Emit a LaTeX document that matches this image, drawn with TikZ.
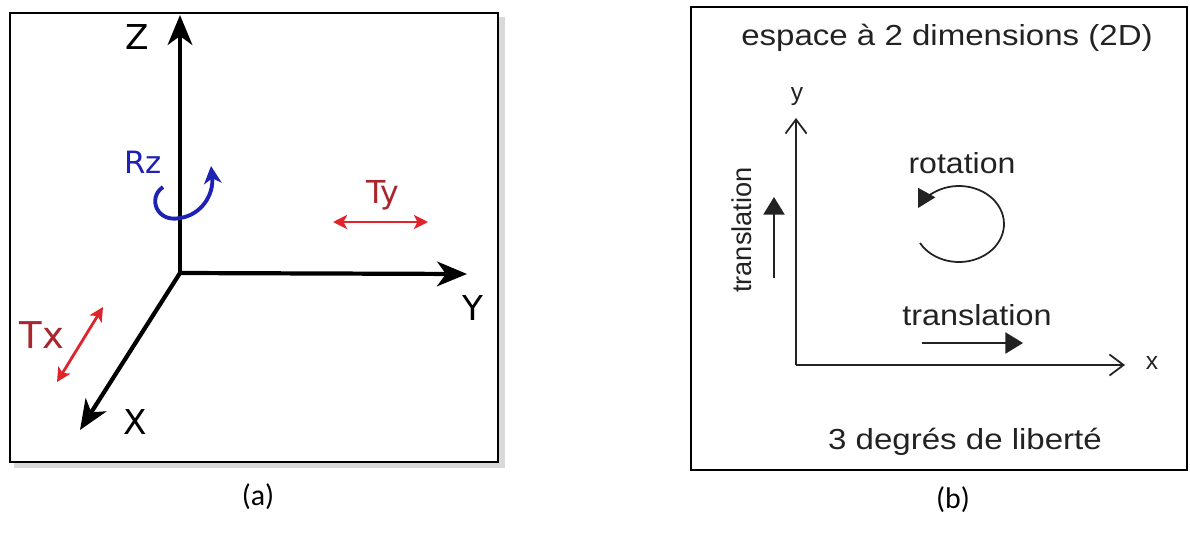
\documentclass[tikz,border=0pt]{standalone}
\usepackage{fontspec}
\setmainfont{Liberation Sans}
\newfontfamily\dejavu{DejaVu Sans}
\newfontfamily\arialf{Liberation Sans}
\newfontfamily\calibrif{Carlito}
\usetikzlibrary{arrows.meta}
\definecolor{tred}{HTML}{A8262E}
\definecolor{ared}{HTML}{E0242B}
\definecolor{rblue}{HTML}{1E22B4}
\definecolor{txtgray}{HTML}{222222}
\tikzset{
  axis3d/.style={line width=2.4pt, -{Stealth[length=17pt,width=14pt,inset=5pt]}},
  axlabel/.style={font=\dejavu\fontsize{19.5}{21}\selectfont},
  redarrow/.style={ared, line width=1.6pt, {Stealth[length=8pt,width=8pt,inset=2pt]}-{Stealth[length=8pt,width=8pt,inset=2pt]}},
  axis2d/.style={line width=1pt, txtgray, -{Straight Barb[length=8pt,width=12pt,line width=1pt]}},
  trarrow/.style={line width=1pt, txtgray, -{Triangle[length=10pt,width=12pt]}},
  btext/.style={txtgray, font=\arialf\fontsize{16.5}{18}\selectfont, xscale=1.14},
  captxt/.style={font=\calibrif\fontsize{17}{19}\selectfont},
}
\begin{document}
\begin{tikzpicture}[x=0.02cm,y=0.02cm]
\useasboundingbox (0,0) rectangle (1190,-555);
% ---------- panel (a)
\fill[gray!30] (14,-17) rectangle (505,-468);
\draw[line width=1.2pt, fill=white] (10,-13) rectangle (498,-462);
\coordinate (O) at (180,-273);
\coordinate (Ztip) at (180,-15);
\coordinate (Ytip) at (467,-274);
\coordinate (Xtip) at (80,-430);
\draw[axis3d] (O) -- (Ztip);
\draw[axis3d] (O) -- (Ytip);
\draw[axis3d] (O) -- (Xtip);
\node[axlabel] (zl) at (137,-37) {Z};
\node[axlabel] (yl) at (473,-308) {Y};
\node[axlabel] (xl) at (135,-422) {X};
\node[rblue, font=\dejavu\fontsize{17.5}{19}\selectfont] (rz) at (143,-162) {Rz};
\coordinate (r1) at (163,-187);
\coordinate (r2) at (180,-218);
\coordinate (r3) at (211,-166);
\draw[rblue, line width=2.2pt, -{Stealth[length=10pt,width=10pt,inset=3pt]}]
  (r1) .. controls (147,-198) and (157,-223) .. (r2)
  .. controls (201,-215) and (214,-195) .. (r3);
\node[tred, font=\dejavu\fontsize{18}{20}\selectfont] (ty) at (383,-195) {Ty};
\coordinate (ty1) at (333,-222);
\coordinate (ty2) at (428,-222);
\draw[redarrow] (ty1) -- (ty2);
\node[tred, font=\dejavu\fontsize{21}{23}\selectfont] (tx) at (42,-335) {Tx};
\coordinate (tx1) at (57,-382);
\coordinate (tx2) at (103,-307);
\draw[redarrow] (tx1) -- (tx2);
\node[captxt] (capa) at (258,-497) {(a)};
% ---------- panel (b)
\draw[line width=1.1pt] (691,-7) rectangle (1187,-470);
\coordinate (P) at (796,-365);
\coordinate (ytip) at (796,-118);
\coordinate (xtip) at (1125,-365);
\draw[axis2d] (P) -- (ytip);
\draw[axis2d] (P) -- (xtip);
\node[txtgray, font=\arialf\fontsize{14}{16}\selectfont] (yb) at (797,-97) {y};
\node[txtgray, font=\arialf\fontsize{14}{16}\selectfont] (xb) at (1152,-363) {x};
\node[btext] (title) at (947,-38) {espace à 2 dimensions (2D)};
\node[btext] (deg) at (965,-442) {3 degrés de liberté};
\node[txtgray, font=\arialf\fontsize{15.5}{17}\selectfont, rotate=90] (vt) at (742,-230) {translation};
\coordinate (v1) at (774,-278);
\coordinate (v2) at (774,-197);
\draw[trarrow] (v1) -- (v2);
\node[btext, xscale=0.98] (ht) at (977,-315) {translation};
\coordinate (h1) at (922,-343);
\coordinate (h2) at (1023,-343);
\draw[trarrow] (h1) -- (h2);
\node[btext, xscale=0.97] (rot) at (962,-163) {rotation};
\coordinate (rs) at (920,-243);
\draw[line width=1pt, txtgray, -{Triangle[length=10pt,width=11pt]}]
  (rs) arc[start angle=210, end angle=515, x radius=45, y radius=38];
\node[captxt] (capb) at (953,-500) {(b)};
\end{tikzpicture}
\end{document}
